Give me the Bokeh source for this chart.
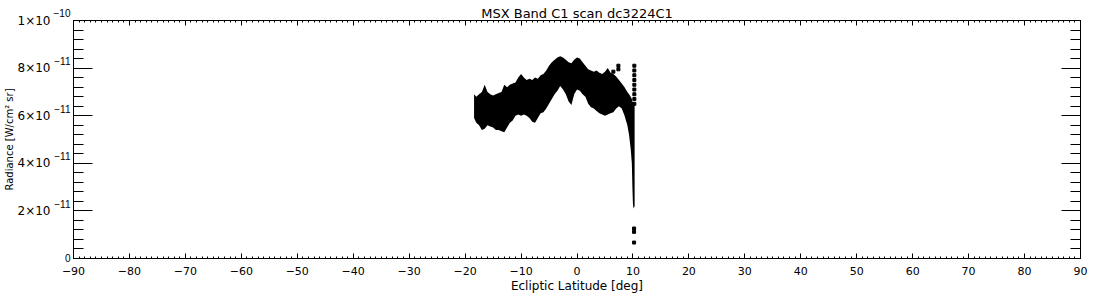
from bokeh.plotting import figure
from bokeh.models import Range1d, FixedTicker, LinearAxis
from bokeh.embed import file_html
from bokeh.resources import INLINE

# ---- data (radiance in units of 1e-11 W/cm^2 sr) ----
lat = [-18.4, -18.0, -17.5, -17.0, -16.5, -16.0, -15.5, -15.0, -14.5, -14.0,
       -13.5, -13.0, -12.5, -12.0, -11.5, -11.0, -10.5, -10.0, -9.5, -9.0,
       -8.5, -8.0, -7.5, -7.0, -6.5, -6.0, -5.5, -5.0, -4.5, -4.0,
       -3.5, -3.0, -2.5, -2.0, -1.5, -1.0, -0.5, 0.0, 0.5, 1.0,
       1.5, 2.0, 2.5, 3.0, 3.5, 4.0, 4.5, 5.0, 5.5, 6.0,
       6.5, 7.0, 7.5, 8.0, 8.5, 9.0, 9.3, 9.6, 9.8, 9.9, 10.0, 10.1, 10.3]
upper = [6.9, 6.8, 6.9, 7.0, 7.3, 7.0, 6.9, 6.85, 6.9, 6.95,
         7.0, 7.3, 7.2, 7.3, 7.35, 7.4, 7.6, 7.75, 7.6, 7.5,
         7.55, 7.5, 7.6, 7.55, 7.7, 7.75, 7.9, 8.1, 8.25, 8.35,
         8.45, 8.5, 8.45, 8.35, 8.25, 8.2, 8.35, 8.45, 8.4, 8.25,
         8.1, 7.95, 7.9, 7.85, 7.9, 7.8, 7.75, 7.85, 8.0, 7.8,
         7.75, 7.65, 7.5, 7.35, 7.2, 7.0, 6.9, 6.8, 6.7, 6.6, 6.55, 6.5, 6.45]
lower = [5.9, 5.7, 5.6, 5.4, 5.45, 5.6, 5.55, 5.5, 5.4, 5.4,
         5.35, 5.3, 5.5, 5.7, 5.8, 6.0, 6.05, 6.0, 6.05, 6.0,
         5.9, 5.75, 5.7, 5.9, 6.1, 6.15, 6.3, 6.5, 6.7, 6.9,
         7.05, 7.25, 7.1, 6.9, 6.6, 6.45, 6.9, 7.1, 7.05, 6.9,
         6.8, 6.5, 6.35, 6.3, 6.2, 6.1, 6.05, 6.0, 6.05, 6.1,
         6.15, 6.3, 6.4, 6.3, 6.0, 5.6, 5.2, 4.6, 4.0, 3.0, 2.3, 2.1, 2.2]
# scattered individual samples
pt_lat = [10.25, 10.25, 10.25, 10.25, 10.25, 10.25, 10.25, 10.25, 10.25,
          10.2, 10.2, 10.2, 7.4, 7.4, 6.5]
pt_val = [8.1, 7.9, 7.7, 7.5, 7.3, 7.1, 6.9, 6.7, 6.5,
          1.26, 1.12, 0.67, 8.1, 7.95, 7.85]

x_ticks = [-90, -80, -70, -60, -50, -40, -30, -20, -10, 0, 10, 20, 30, 40, 50, 60, 70, 80, 90]
x_tick_labels = ["\u221290", "\u221280", "\u221270", "\u221260", "\u221250", "\u221240",
                 "\u221230", "\u221220", "\u221210", "0", "10", "20", "30", "40",
                 "50", "60", "70", "80", "90"]
y_ticks = [0, 2e-11, 4e-11, 6e-11, 8e-11, 1e-10]
y_tick_bases = ["", "2\u00d710", "4\u00d710", "6\u00d710", "8\u00d710", "1\u00d710"]
y_tick_exps = ["0", "\u221211\n ", "\u221211\n ", "\u221211\n ", "\u221211\n ", "\u221210\n "]

FONT = "DejaVu Sans"

p = figure(width=1100, height=300, output_backend="svg", toolbar_location=None,
           x_range=Range1d(-90, 90), y_range=Range1d(0, 1e-10),
           x_axis_type=None, y_axis_type=None,
           min_border_left=71, min_border_right=20, min_border_top=20,
           min_border_bottom=42)
p.background_fill_color = "white"
p.border_fill_color = "white"
p.outline_line_color = "black"
p.xgrid.visible = False
p.ygrid.visible = False

p.title.text = "MSX Band C1 scan dc3224C1"
p.title.align = "center"
p.title.text_font = FONT
p.title.text_font_size = "13px"
p.title.text_font_style = "normal"
p.title.text_color = "black"
p.title.standoff = 0

x_minor = [v for v in range(-90, 91) if v % 10 != 0]
y_minor = [i * 0.4e-11 for i in range(26) if i % 5 != 0]

def make_x_axis(show_labels):
    ax = LinearAxis(ticker=FixedTicker(ticks=x_ticks, minor_ticks=x_minor))
    ax.major_tick_in = 5
    ax.major_tick_out = 0
    ax.minor_tick_in = 2
    ax.minor_tick_out = 0
    ax.axis_line_color = "black"
    ax.major_tick_line_color = "black"
    ax.minor_tick_line_color = "black"
    ax.major_label_text_font = FONT
    ax.major_label_text_font_size = "11px"
    ax.major_label_text_color = "black"
    if show_labels:
        ax.major_label_overrides = {t: l for t, l in zip(x_ticks, x_tick_labels)}
        ax.major_label_standoff = 8
        ax.axis_label = "Ecliptic Latitude [deg]"
        ax.axis_label_text_font = FONT
        ax.axis_label_text_font_size = "12px"
        ax.axis_label_text_font_style = "normal"
        ax.axis_label_text_color = "black"
        ax.axis_label_standoff = 1
    else:
        ax.major_label_overrides = {t: "" for t in x_ticks}
        ax.major_label_standoff = 0
    return ax

def make_y_axis_ticks(labels):
    ax = LinearAxis(ticker=FixedTicker(ticks=y_ticks, minor_ticks=y_minor))
    ax.major_tick_in = 19
    ax.major_tick_out = 0
    ax.minor_tick_in = 10
    ax.minor_tick_out = 0
    ax.axis_line_color = "black"
    ax.major_tick_line_color = "black"
    ax.minor_tick_line_color = "black"
    ax.major_label_text_font = "Liberation Sans"
    ax.major_label_text_font_size = "10px"
    ax.major_label_text_color = "black"
    ax.major_label_overrides = {t: l for t, l in zip(y_ticks, labels)}
    ax.major_label_standoff = 3 if any(labels) else 0
    return ax

# inner left axis: ticks and exponents
p.add_layout(make_y_axis_ticks(y_tick_exps), "left")
# outer left axis: mantissas and the axis title
outer = LinearAxis(ticker=FixedTicker(ticks=y_ticks, minor_ticks=[]))
outer.axis_line_color = None
outer.major_tick_line_color = None
outer.minor_tick_line_color = None
outer.major_tick_in = 0
outer.major_tick_out = 0
outer.minor_tick_in = 0
outer.minor_tick_out = 0
outer.major_label_overrides = {t: l for t, l in zip(y_ticks, y_tick_bases)}
outer.major_label_text_font = FONT
outer.major_label_text_font_size = "12px"
outer.major_label_text_color = "black"
outer.major_label_standoff = 0
outer.axis_label = "Radiance [W/cm\u00b2 sr]"
outer.axis_label_text_font = FONT
outer.axis_label_text_font_size = "10px"
outer.axis_label_text_font_style = "normal"
outer.axis_label_text_color = "black"
outer.axis_label_standoff = 0
p.add_layout(outer, "left")

p.add_layout(make_x_axis(True), "below")
p.add_layout(make_x_axis(False), "above")
p.add_layout(make_y_axis_ticks([""] * len(y_ticks)), "right")

# data band and individual points
p.varea(x=lat, y1=[v * 1e-11 for v in lower], y2=[v * 1e-11 for v in upper],
        fill_color="black")
p.scatter(x=pt_lat, y=[v * 1e-11 for v in pt_val], marker="square", size=3,
          fill_color="black", line_color="black")

open("out.html", "w").write(file_html(p, INLINE))
